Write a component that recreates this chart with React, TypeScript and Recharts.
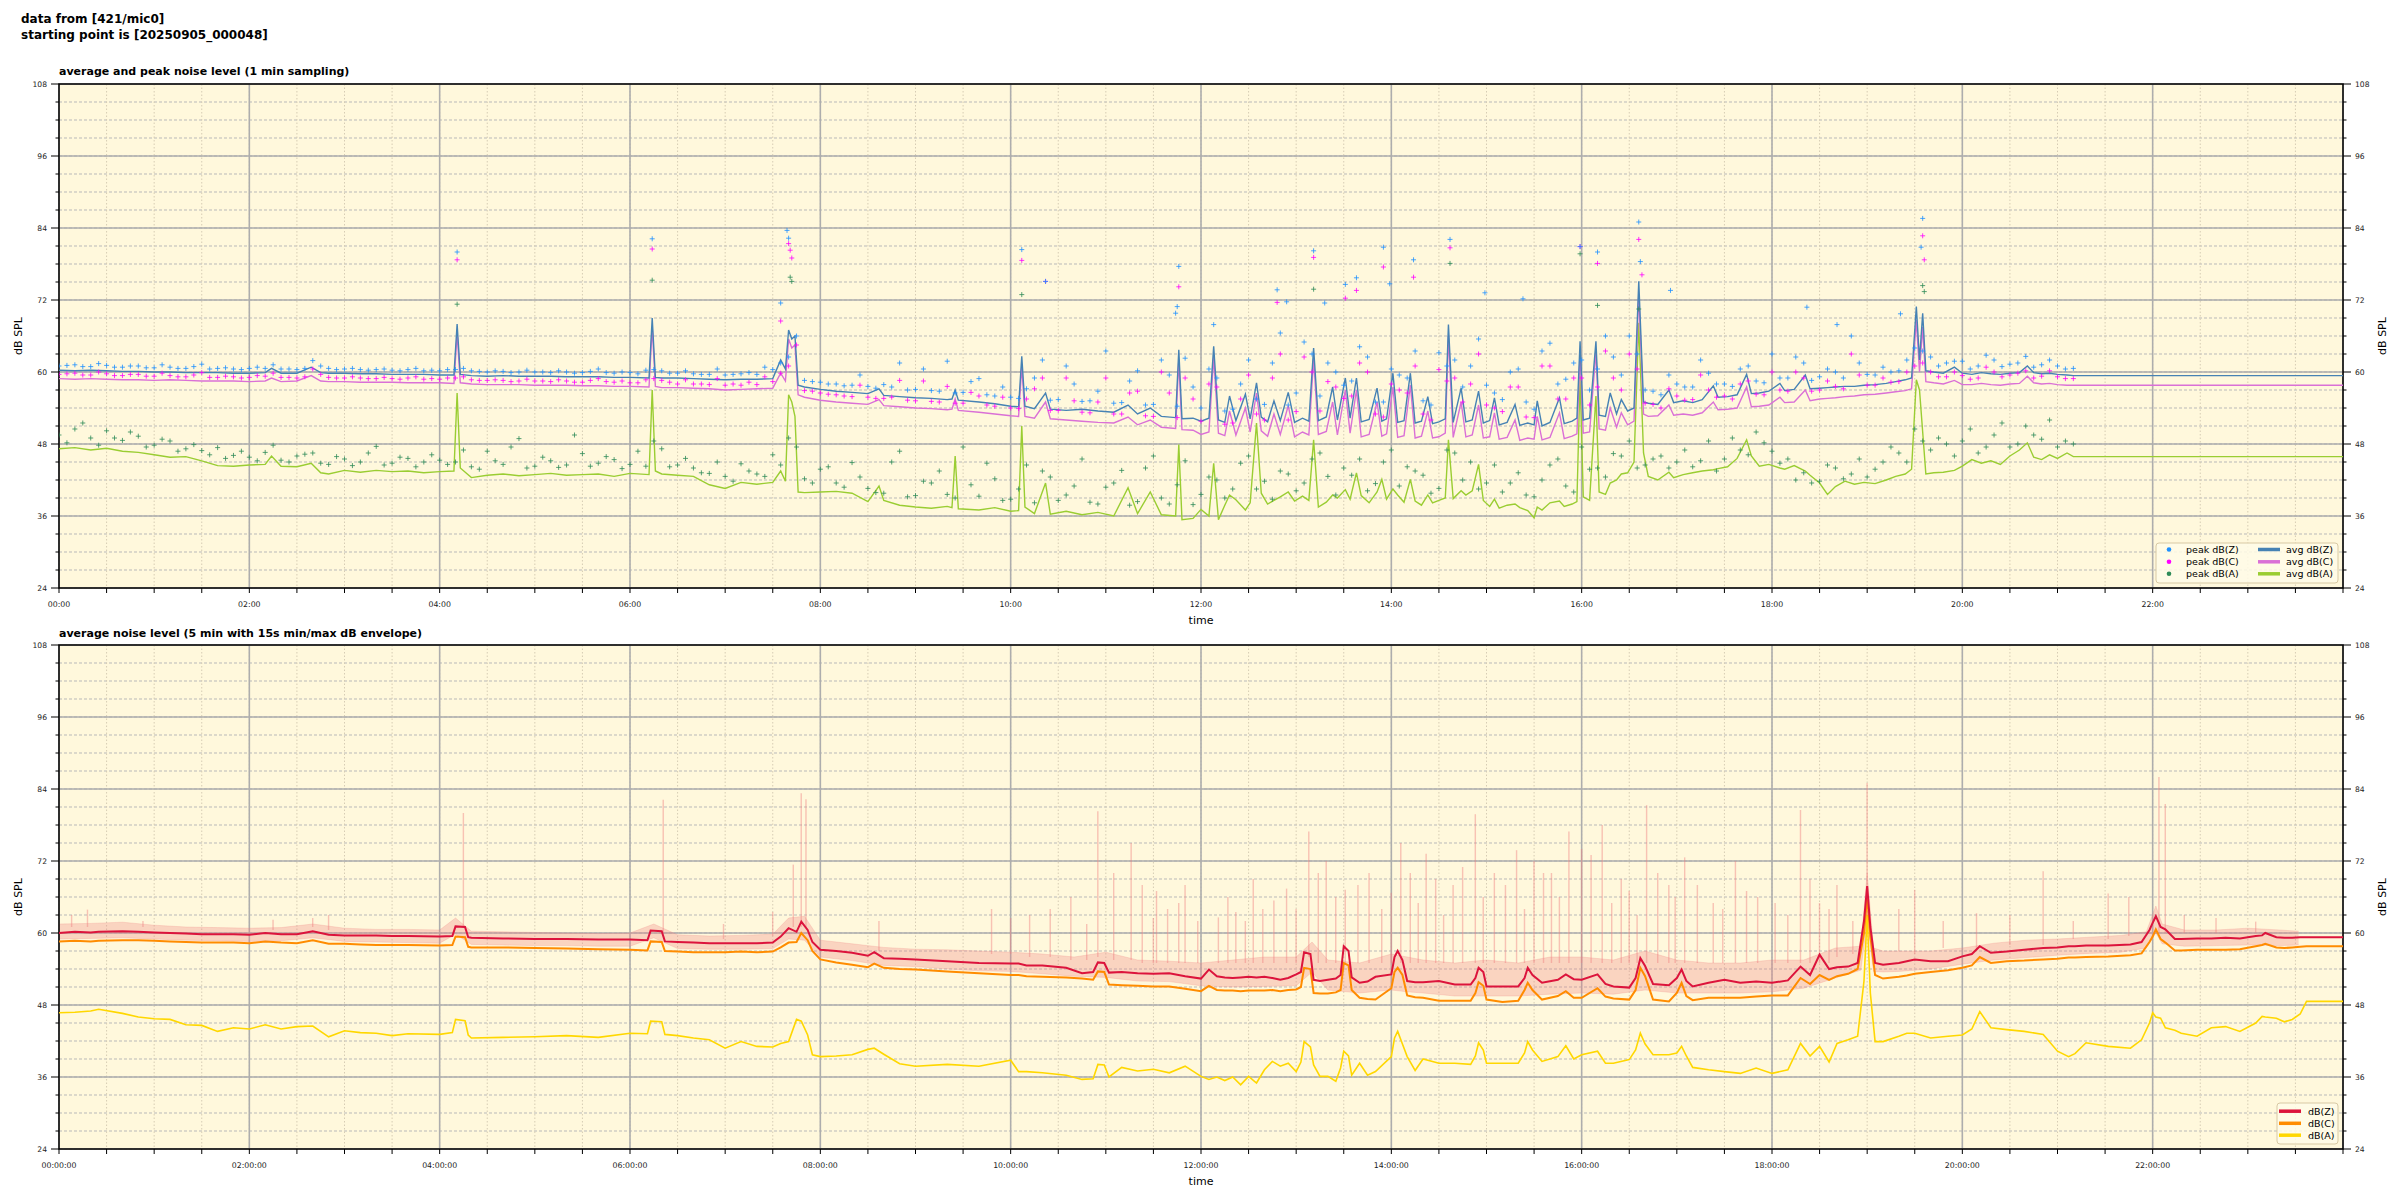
import { Area, Bar, CartesianGrid, ComposedChart, Line, ReferenceArea, Scatter, XAxis, YAxis } from "recharts";

const FONT = "'DejaVu Sans', sans-serif";
const PLOT_BG = "#fff8dc";

// ---- axes -------------------------------------------------------------
const dbTicks = [24, 27, 30, 33, 36, 39, 42, 45, 48, 51, 54, 57, 60, 63, 66, 69, 72, 75, 78, 81, 84, 87, 90, 93, 96, 99, 102, 105, 108];
const dbMajor = [24, 36, 48, 60, 72, 84, 96, 108];
const hourMajor = [0, 120, 240, 360, 480, 600, 720, 840, 960, 1080, 1200, 1320, 1440];
const halfHourTicks = Array.from({ length: 49 }, (_, i) => i * 30);
const topTimeLabels = ["00:00", "02:00", "04:00", "06:00", "08:00", "10:00", "12:00", "14:00", "16:00", "18:00", "20:00", "22:00"];
const bottomTimeLabels = ["00:00:00", "02:00:00", "04:00:00", "06:00:00", "08:00:00", "10:00:00", "12:00:00", "14:00:00", "16:00:00", "18:00:00", "20:00:00", "22:00:00"];

// ---- top chart: 1 min averages (minutes since 00:00) -----------------
const topT = [
  0, 10, 20, 30, 40, 50, 60, 70, 80, 90,
  100, 110, 120, 130, 134, 140, 150, 159, 165, 170,
  180, 190, 200, 210, 220, 230, 240, 249, 251, 253,
  260, 270, 280, 290, 300, 310, 320, 330, 340, 350,
  360, 372, 374, 376, 380, 390, 400, 410, 420, 430,
  440, 450, 455, 458, 460, 462, 464, 466, 470, 480,
  490, 500, 510, 517, 520, 530, 540, 550, 560, 563,
  565, 567, 580, 590, 600, 605, 607, 609, 615, 622,
  625, 635, 645, 655, 665, 674, 680, 688, 695, 704,
  706, 708, 715,
  720, 725, 728, 731, 735, 738, 742, 748, 751, 755,
  758, 762, 766, 770, 775, 779, 784, 788, 791, 794,
  799, 803, 806, 811, 814, 818, 821, 826, 831, 834,
  837, 841, 844, 848, 852, 855, 859, 863, 866, 870,
  874, 876, 879, 884, 887, 891, 895, 898, 902, 905,
  908, 913, 918, 921, 926, 930, 932, 935, 940, 946,
  949, 954, 957, 959, 961, 965, 969, 971, 975, 978,
  982, 985, 989, 993, 996, 999, 1002, 1008, 1015, 1018,
  1024, 1030, 1036, 1043, 1046, 1052, 1058, 1064, 1067, 1072,
  1078, 1085, 1088, 1094, 1101, 1104, 1110, 1115, 1120, 1126,
  1132, 1138, 1145, 1152, 1158, 1164, 1168, 1171, 1173, 1175,
  1177, 1182, 1188, 1195, 1200, 1206, 1212, 1218, 1224, 1230,
  1236, 1241, 1245, 1250, 1255, 1260, 1266, 1270, 1440,
];
const avgZ = [
  60.3, 60.2, 60.3, 60.2, 60.1, 60.1, 60.0, 60.0, 59.9, 59.9,
  59.9, 59.8, 59.8, 59.9, 60.6, 59.8, 59.8, 60.8, 59.9, 59.8,
  59.8, 59.7, 59.7, 59.6, 59.6, 59.6, 59.5, 59.5, 68.0, 59.6,
  59.4, 59.3, 59.4, 59.3, 59.3, 59.3, 59.2, 59.2, 59.2, 59.1,
  59.1, 59.0, 69.0, 59.1, 59.0, 59.0, 58.9, 58.8, 58.7, 58.8,
  58.8, 58.9, 62.0, 60.5, 67.0, 65.5, 66.0, 57.8, 57.5, 57.1,
  56.8, 56.6, 56.4, 57.2, 56.1, 55.9, 55.7, 55.6, 55.4, 55.5,
  57.0, 55.3, 55.0, 54.7, 54.3, 54.2, 62.6, 54.3, 53.9, 56.5,
  53.8, 53.6, 53.8, 53.5, 53.3, 54.5, 53.0, 54.0, 52.6, 52.4,
  63.7, 52.2, 52.3,
  51.8, 52.3, 64.3, 52.0, 51.6, 56.0, 51.9, 56.3, 52.2, 58.2,
  52.5, 51.7, 55.2, 51.9, 56.6, 51.6, 52.3, 51.8, 64.0, 51.9,
  52.5, 57.5, 52.0, 59.0, 52.3, 59.0, 51.7, 52.1, 57.3, 51.8,
  52.2, 59.8, 51.6, 51.9, 59.8, 51.5, 51.8, 55.9, 51.4, 51.7,
  52.2, 67.9, 51.6, 57.3, 51.7, 52.0, 56.8, 51.5, 51.9, 55.7,
  51.2, 51.6, 54.6, 51.1, 51.5, 51.2, 55.2, 51.0, 51.6, 55.7,
  51.4, 51.8, 52.3, 65.1, 52.0, 52.3, 65.1, 52.8, 52.6, 56.5,
  53.0, 55.4, 53.5, 54.0, 75.1, 55.0, 54.8, 54.6, 57.0, 54.9,
  55.2, 54.9, 55.4, 57.7, 55.8, 55.9, 56.2, 59.6, 56.4, 56.5,
  56.8, 58.1, 56.9, 57.1, 59.5, 57.2, 57.3, 57.4, 57.5, 57.6,
  57.6, 57.8, 57.9, 58.1, 58.4, 58.7, 59.0, 70.9, 62.0, 69.8,
  60.2, 60.0, 59.8, 60.8, 59.8, 59.6, 59.9, 59.7, 59.6, 59.8,
  59.9, 61.0, 59.9, 59.7, 59.8, 59.6, 59.5, 59.4, 59.4,
];
const avgC = [
  58.9, 58.8, 58.9, 58.8, 58.7, 58.7, 58.6, 58.7, 58.6, 58.5,
  58.5, 58.5, 58.4, 58.5, 59.0, 58.4, 58.5, 59.4, 58.5, 58.4,
  58.4, 58.3, 58.3, 58.3, 58.2, 58.2, 58.2, 58.1, 66.5, 58.2,
  58.0, 57.9, 57.9, 57.9, 57.8, 57.8, 57.8, 57.7, 57.7, 57.6,
  57.6, 57.5, 67.5, 57.6, 57.4, 57.4, 57.3, 57.2, 57.0, 57.1,
  57.2, 57.3, 59.8, 58.5, 65.5, 64.0, 64.5, 56.2, 55.8, 55.3,
  55.0, 54.8, 54.6, 55.4, 54.4, 54.2, 54.0, 53.9, 53.7, 53.8,
  55.5, 53.6, 53.3, 53.0, 52.7, 52.6, 61.0, 52.6, 52.3, 55.0,
  52.2, 52.0, 51.8, 51.6, 51.5, 52.5, 51.2, 52.0, 50.8, 50.6,
  62.0, 50.4, 50.3,
  49.6, 50.0, 62.5, 49.8, 49.4, 53.5, 49.5, 54.0, 50.0, 56.5,
  50.2, 49.3, 53.0, 49.6, 54.4, 49.2, 50.0, 49.5, 62.2, 49.6,
  50.1, 55.0, 49.5, 57.0, 49.8, 57.0, 49.2, 49.6, 55.0, 49.3,
  49.7, 57.5, 49.1, 49.4, 57.8, 49.0, 49.3, 53.5, 49.0, 49.2,
  49.8, 66.0, 49.1, 55.0, 49.2, 49.5, 54.5, 49.0, 49.2, 53.2,
  48.8, 49.1, 52.0, 48.6, 49.0, 48.8, 52.6, 48.7, 49.1, 53.2,
  48.9, 49.3, 49.7, 63.0, 49.8, 50.0, 63.5, 50.5, 50.3, 54.0,
  50.8, 53.2, 51.2, 51.8, 73.0, 53.0, 52.6, 52.7, 54.5, 52.8,
  53.0, 52.8, 53.2, 55.0, 53.7, 53.8, 54.0, 57.5, 54.2, 54.3,
  54.5, 55.8, 54.9, 55.0, 57.0, 55.2, 55.5, 55.6, 55.7, 55.9,
  56.0, 56.2, 56.3, 56.5, 56.7, 56.9, 57.2, 68.7, 60.0, 67.5,
  58.4, 58.2, 58.0, 58.6, 57.9, 57.9, 58.1, 57.9, 57.8, 58.0,
  58.1, 59.3, 58.2, 58.0, 58.1, 57.9, 57.8, 57.8, 57.8,
];
const avgA = [
  47.2, 47.4, 47.0, 47.3, 46.8, 46.6, 46.2, 45.8, 45.9, 45.2,
  44.4, 44.3, 44.5, 44.6, 46.0, 44.3, 44.2, 44.8, 43.2, 43.0,
  43.6, 43.3, 43.6, 43.4, 43.5, 43.2, 43.4, 43.5, 56.5, 44.0,
  42.4, 42.8, 43.0, 42.7, 42.9, 43.1, 42.8, 42.9, 43.0, 42.6,
  43.1, 42.9, 57.0, 43.5, 43.0, 42.8, 42.6, 41.2, 40.6, 41.6,
  41.3, 41.6, 43.5, 41.8, 56.2, 55.0, 52.6, 40.0, 39.9, 40.0,
  40.1, 39.8, 38.4, 41.0, 38.6, 37.8, 37.5, 37.3, 37.6, 37.4,
  46.0, 37.2, 37.0, 37.4, 36.8, 36.9, 51.0, 37.5, 36.4, 41.5,
  36.3, 36.8, 36.2, 36.6, 36.0, 40.7, 36.4, 40.0, 36.2, 36.0,
  47.9, 35.4, 35.6,
  37.1, 36.0, 44.8, 35.4, 37.8, 39.5, 38.7, 37.0, 38.2, 51.5,
  39.8, 38.0, 38.6, 39.2, 40.0, 38.5, 39.3, 38.6, 48.7, 37.5,
  38.3, 39.5, 39.0, 40.4, 38.8, 43.2, 39.4, 38.2, 40.0, 42.1,
  38.8, 40.5, 39.5, 38.3, 42.1, 38.5, 37.8, 39.5, 38.2, 38.6,
  39.0, 48.7, 38.9, 40.2, 39.5, 40.2, 44.6, 38.6, 37.6, 38.8,
  37.3, 37.8, 38.0, 37.4, 36.9, 35.7, 37.5, 37.0, 38.2, 38.5,
  37.6, 38.0, 38.4, 59.3, 39.2, 38.6, 56.0, 40.0, 39.6, 41.5,
  42.0, 43.0, 43.2, 45.0, 68.2, 46.5, 42.6, 42.0, 43.3, 42.4,
  42.9, 43.2, 43.5, 43.7, 43.9, 44.2, 45.6, 48.7, 46.0, 44.3,
  44.6, 44.0, 43.8, 44.4, 43.5, 42.8, 41.5, 39.6, 40.9, 41.8,
  41.3, 41.6, 41.4, 42.0, 42.6, 43.0, 43.8, 58.7, 57.0, 50.0,
  43.0, 43.2, 43.3, 43.6, 44.3, 45.4, 44.8, 45.2, 44.6, 46.0,
  47.0, 48.2, 45.8, 45.4, 46.2, 45.6, 46.5, 45.9, 45.9,
];

// ---- top chart: 1 min peaks, every 5 minutes 00:00 .. 21:10 ----------
const peakT = Array.from({ length: 128 }, (_, i) => i * 10);
const peakT2 = Array.from({ length: 127 }, (_, i) => i * 10 + 5);
const peakZ = [
  61.0, 61.2, 60.9, 61.1, 60.8, 61.0, 60.7, 60.8, 60.6, 61.3,
  60.6, 60.5, 60.6, 60.6, 60.5, 60.4, 61.9, 60.6, 60.5, 60.4,
  60.4, 60.3, 60.4, 60.2, 60.2, 60.4, 60.2, 60.0, 60.1, 60.0,
  60.0, 59.9, 60.0, 59.9, 60.5, 59.8, 59.9, 60.3, 60.2, 59.8,
  59.7, 59.6, 59.5, 59.7, 59.6, 60.4, 62.5, 58.6, 58.3, 58.0,
  57.8, 57.6, 57.9, 61.5, 57.1, 56.9, 61.8, 56.6, 58.9, 56.0,
  55.8, 57.2, 62.0, 55.4, 58.0, 55.2, 63.5, 54.9, 60.2, 54.6,
  59.5, 62.3, 54.0, 59.0, 53.8, 62.0, 54.6, 66.5, 56.5, 63.0,
  61.5, 57.8, 64.2, 55.0, 60.5, 59.0, 55.2, 63.2, 62.0, 61.0,
  57.8, 55.4, 60.5, 53.8, 64.8, 58.8, 62.0, 60.5, 62.5, 66.0,
  57.0, 56.2, 58.0, 57.5, 59.8, 58.0, 60.5, 58.5, 63.0, 59.0,
  61.5, 59.2, 60.0, 66.0, 59.6, 60.8, 60.2, 64.0, 62.5, 61.5,
  61.8, 61.0, 62.0, 61.3, 62.6, 61.2, 61.0, 60.6,
];
const peakZ2 = [
  61.1, 60.9, 61.4, 60.8, 61.0, 60.7, 61.2, 60.6, 60.9, 60.5,
  60.7, 60.4, 60.8, 61.2, 60.5, 60.6, 61.0, 60.4, 60.6, 60.3,
  60.5, 60.2, 60.6, 60.3, 60.4, 60.6, 60.1, 60.2, 59.9, 60.3,
  60.0, 60.2, 59.8, 60.1, 59.9, 60.0, 59.7, 60.4, 59.8, 60.2,
  59.6, 60.5, 59.6, 59.9, 60.8, 61.5, 66.0,
  58.4, 58.0, 57.7, 59.5, 57.3, 57.5, 57.0, 60.5, 56.8, 56.5, 58.4, 56.2, 57.5,
  55.6, 59.0, 55.3, 61.0, 55.1, 56.8, 54.8, 58.5, 54.5, 62.0, 54.3, 57.5,
  60.5, 53.5, 58.0, 55.5, 61.5, 54.5, 65.0, 56.0, 60.0, 58.5,
  62.5, 55.0, 59.5, 63.5, 54.5, 61.0, 57.5, 65.5, 56.5, 60.0,
  55.0, 63.5, 58.0, 61.5, 57.0, 66.0, 59.5, 63.0,
  56.8, 59.5, 57.5, 62.0, 58.0, 57.6, 61.0, 58.2, 59.0, 62.5,
  58.6, 60.5, 59.0, 61.5, 59.5, 60.0, 62.0, 63.5, 61.0, 61.8,
  60.5, 62.8, 60.9, 61.5, 60.8, 62.0, 60.5,
];
const peakC = [
  59.6, 59.8, 59.5, 59.7, 59.4, 59.6, 59.3, 59.4, 59.2, 59.9,
  59.1, 59.2, 59.1, 59.3, 59.1, 59.0, 60.5, 59.1, 59.0, 59.0,
  58.9, 58.9, 59.0, 58.8, 58.8, 59.0, 58.7, 58.6, 58.6, 58.5,
  58.5, 58.4, 58.5, 58.3, 58.9, 58.3, 58.2, 58.7, 58.6, 58.0,
  58.0, 57.9, 57.8, 57.8, 57.9, 58.4, 61.0, 56.9, 56.5, 56.2,
  55.9, 55.8, 55.6, 58.6, 55.2, 55.1, 57.6, 54.8, 56.0, 54.3,
  54.0, 55.5, 59.0, 53.6, 55.2, 53.2, 59.0, 53.0, 56.8, 52.6,
  56.5, 59.0, 51.8, 57.5, 51.5, 59.5, 52.0, 63.0, 53.4, 60.0,
  58.4, 55.6, 61.5, 53.0, 58.0, 56.5, 53.0, 60.4, 59.0, 58.0,
  54.5, 53.4, 57.5, 52.4, 61.0, 55.5, 59.0, 57.5, 59.0, 63.0,
  54.8, 54.0, 56.0, 55.4, 57.0, 56.0, 58.0, 56.3, 60.0, 56.8,
  59.0, 57.0, 57.6, 63.0, 57.8, 59.0, 58.4, 61.0, 60.0, 59.2,
  59.4, 59.0, 60.0, 59.5, 60.2, 59.3, 59.2, 58.9,
];
const peakC2 = [
  59.7, 59.5, 60.0, 59.4, 59.6, 59.3, 59.8, 59.2, 59.5, 59.1,
  59.3, 59.0, 59.4, 59.8, 59.1, 59.2, 59.6, 59.0, 59.2, 58.9,
  59.1, 58.8, 59.2, 58.9, 59.0, 59.2, 58.6, 58.7, 58.4, 58.8,
  58.5, 58.7, 58.3, 58.6, 58.4, 58.5, 58.2, 58.9, 58.3, 58.7,
  58.0, 58.9, 58.0, 58.3, 59.2, 59.8, 64.5,
  56.8, 56.3, 56.0, 57.8, 55.6, 55.8, 55.3, 58.5, 55.0, 54.8, 56.6, 54.5, 55.8,
  53.9, 57.2, 53.6, 59.0, 53.3, 55.0, 53.0, 56.5, 52.7, 60.0, 52.4, 55.5,
  58.0, 51.3, 55.5, 53.0, 59.0, 52.0, 62.5, 53.5, 57.5, 56.0,
  60.0, 52.5, 57.0, 61.0, 52.0, 58.5, 55.0, 63.0, 54.0, 57.5,
  52.5, 61.0, 55.5, 59.0, 54.5, 63.5, 57.0, 60.5,
  54.6, 57.2, 55.3, 59.5, 55.8, 55.5, 58.5, 56.2, 57.0, 60.0,
  56.8, 58.5, 57.2, 59.5, 57.8, 58.3, 60.0, 61.5, 59.2, 60.0,
  58.8, 60.8, 59.2, 59.8, 59.0, 60.2, 58.9,
];
const peakA = [
  49.5, 50.5, 49.0, 50.2, 48.6, 49.3, 47.8, 48.5, 47.2, 46.9,
  47.4, 46.1, 45.8, 46.6, 45.3, 46.0, 46.5, 44.6, 45.5, 45.0,
  47.6, 44.8, 45.6, 45.0, 45.3, 45.0, 44.2, 46.8, 44.6, 48.9,
  44.3, 45.2, 44.5, 46.4, 44.8, 45.4, 44.6, 44.3, 47.2, 44.5,
  44.0, 43.1, 42.6, 44.7, 43.0, 46.2, 49.0, 42.2, 43.8, 41.5,
  44.9, 40.6, 39.8, 46.8, 39.4, 41.5, 39.6, 47.5, 39.3, 42.2,
  38.8, 44.5, 43.5, 38.6, 41.0, 38.3, 40.8, 43.6, 38.4, 46.0,
  38.0, 45.2, 39.6, 42.0, 40.5, 46.0, 41.8, 43.5, 40.2, 45.5,
  42.6, 44.0, 45.5, 41.4, 47.0, 44.2, 42.8, 40.6, 46.5, 45.0,
  41.5, 40.0, 43.2, 39.2, 44.5, 41.0, 47.5, 44.0, 46.4, 48.5,
  44.5, 46.0, 45.0, 44.2, 48.5, 45.5, 47.0, 50.0, 46.8, 45.5,
  43.2, 41.8, 44.0, 43.0, 42.5, 45.0, 46.5, 50.5, 47.0, 48.0,
  48.5, 46.5, 49.5, 47.5, 51.0, 48.8, 47.5, 48.0,
];
const peakA2 = [
  48.2, 51.5, 47.8, 49.0, 50.0, 47.5, 48.8, 46.8, 47.9, 46.2,
  45.6, 46.8, 45.2, 47.8, 45.0, 46.3, 44.8, 45.9, 44.4, 46.5,
  44.5, 45.8, 44.2, 46.2, 44.6, 47.0, 43.8, 45.2, 47.5, 44.0,
  45.8, 44.1, 49.5, 44.3, 45.9, 43.9, 46.8, 48.5, 44.2, 45.6,
  43.2, 45.0, 41.8, 43.5, 42.6, 44.5, 47.5,
  41.5, 44.2, 40.8, 42.5, 39.9, 45.0, 39.2, 41.8, 43.5, 39.0, 41.2, 44.8, 38.6,
  40.5, 38.2, 42.5, 39.5, 45.5, 38.0, 41.5, 37.8, 44.0, 39.0, 41.2, 37.9,
  42.5, 39.0, 44.8, 40.5, 38.8, 43.0, 41.5, 46.5, 39.5, 42.8,
  40.2, 45.0, 41.0, 43.5, 39.8, 47.0, 42.0, 40.5, 44.5, 41.5,
  39.5, 42.0, 45.5, 40.0, 43.8, 42.5, 46.0, 44.0,
  45.5, 44.0, 47.0, 45.2, 43.5, 49.0, 46.2, 48.2, 44.8, 42.0,
  41.5, 44.5, 42.2, 45.5, 43.8, 47.5, 45.0, 48.5, 49.0, 46.0,
  50.5, 47.5, 51.5, 48.0, 49.5, 52.0, 48.5,
];
// loud single-minute peaks
const peakZxT = [251, 374, 455, 459, 460, 607, 622, 704, 705, 706, 728, 768, 774, 791, 798, 811, 818, 835, 839, 854, 877, 899, 923, 959, 970, 996, 997, 1016, 1102, 1121, 1161, 1174, 1175];
const peakZxV = [80.0, 82.2, 71.5, 83.6, 82.3, 80.4, 75.1, 69.8, 70.9, 77.6, 67.9, 73.7, 71.7, 80.2, 71.5, 74.6, 75.7, 80.8, 74.7, 78.7, 82.1, 73.2, 72.2, 80.9, 80.0, 85.0, 78.4, 73.6, 70.8, 67.9, 69.7, 80.8, 85.6];
const peakCxT = [251, 374, 455, 460, 461, 462, 607, 622, 706, 768, 791, 811, 818, 835, 854, 877, 959, 970, 996, 998, 1175, 1176];
const peakCxV = [78.7, 80.5, 68.5, 81.4, 80.3, 79.0, 78.6, 75.1, 74.2, 71.6, 79.1, 72.3, 73.6, 77.5, 75.8, 80.7, 80.9, 78.1, 82.1, 76.2, 82.7, 78.7];
const peakAxT = [251, 374, 461, 462, 607, 791, 877, 959, 970, 996, 1175, 1176];
const peakAxV = [71.3, 75.3, 75.8, 75.1, 72.9, 73.8, 78.1, 79.7, 71.1, 70.5, 74.4, 73.4];

// ---- bottom chart: 5 min averages ------------------------------------
const btmT = [
  0, 10, 20, 25, 40, 50, 60, 70, 80, 90,
  100, 110, 120, 130, 140, 150, 160, 170, 180, 190,
  200, 210, 220, 240, 248, 250, 256, 258, 260, 280,
  300, 320, 340, 360, 371, 373, 380, 382, 390, 400,
  410, 420, 430, 440, 450, 455, 460, 465, 468, 472,
  475, 480, 490, 500, 510, 514, 520, 530, 540, 560,
  580, 600, 605, 610, 620, 635, 645, 652, 655, 659,
  662, 670, 680, 690, 700, 710, 720, 725, 730, 735,
  740, 745, 750, 755, 760, 765, 770, 775, 780, 783,
  785, 789, 791, 795, 800, 805, 808, 810, 813, 815,
  820, 825, 830, 840, 842, 844, 847, 850, 855, 860,
  870, 880, 890, 893, 895, 898, 900, 910, 920, 924,
  926, 929, 935, 945, 950, 955, 960, 970, 975, 980,
  990, 994, 997, 1000, 1005, 1015, 1020, 1023, 1026, 1030,
  1040, 1050, 1060, 1070, 1080, 1090, 1098, 1104, 1110, 1116,
  1121, 1128, 1134, 1138, 1140, 1142, 1145, 1150, 1160, 1165,
  1170, 1180, 1191, 1200, 1206, 1211, 1218, 1228, 1239, 1251,
  1260, 1267, 1271, 1278, 1292, 1306, 1313, 1318, 1320, 1322,
  1325, 1328, 1334, 1338, 1348, 1357, 1366, 1375, 1385, 1389,
  1391, 1398, 1403, 1408, 1413, 1417, 1440,
];
const lineZ = [
  60.0, 60.2, 60.1, 60.2, 60.3, 60.2, 60.1, 60.0, 59.9, 59.8,
  59.8, 59.8, 59.7, 60.0, 59.8, 59.8, 60.3, 59.7, 59.6, 59.6,
  59.6, 59.5, 59.5, 59.4, 59.5, 61.1, 61.0, 59.3, 59.2, 59.1,
  59.0, 59.0, 58.9, 58.9, 58.8, 60.4, 60.3, 58.6, 58.5, 58.4,
  58.3, 58.3, 58.3, 58.3, 58.4, 59.4, 60.8, 60.2, 61.9, 60.5,
  58.5, 57.2, 57.0, 56.7, 56.2, 56.8, 55.8, 55.7, 55.6, 55.3,
  55.0, 54.9, 54.9, 54.6, 54.6, 54.2, 53.3, 53.5, 55.1, 55.0,
  53.4, 53.5, 53.3, 53.2, 53.3, 52.8, 52.4, 53.9, 52.8, 52.6,
  52.5, 52.6, 52.7, 52.6, 52.7, 52.5, 52.2, 52.5, 53.1, 53.5,
  56.8, 56.5, 52.2, 52.0, 52.2, 52.4, 53.0, 57.8, 57.0, 52.6,
  51.7, 51.9, 52.7, 53.1, 56.0, 57.0, 55.5, 52.0, 51.8, 51.8,
  52.0, 51.4, 51.4, 52.5, 54.2, 53.5, 51.1, 51.1, 51.1, 52.5,
  54.2, 53.0, 51.7, 52.2, 53.1, 52.3, 52.2, 53.1, 51.5, 51.1,
  50.9, 52.5, 55.8, 54.5, 51.5, 51.3, 52.5, 53.9, 52.0, 51.1,
  51.7, 52.2, 51.7, 51.9, 51.7, 52.1, 54.4, 53.0, 56.4, 54.0,
  54.3, 54.4, 55.0, 62.0, 67.8, 61.0, 55.0, 54.7, 55.0, 55.3,
  55.6, 55.3, 55.3, 56.1, 56.5, 57.8, 56.7, 56.9, 57.2, 57.5,
  57.6, 57.8, 57.8, 57.9, 57.9, 58.1, 58.5, 60.5, 61.7, 62.8,
  61.0, 60.6, 59.0, 59.0, 59.1, 59.1, 59.2, 59.1, 59.5, 59.6,
  60.0, 59.3, 59.2, 59.2, 59.3, 59.3, 59.3,
];
const lineC = [
  58.6, 58.7, 58.6, 58.7, 58.8, 58.8, 58.7, 58.6, 58.5, 58.4,
  58.4, 58.4, 58.3, 58.6, 58.4, 58.3, 58.8, 58.2, 58.2, 58.1,
  58.0, 58.0, 58.0, 57.9, 58.0, 59.4, 59.3, 57.7, 57.6, 57.6,
  57.5, 57.4, 57.3, 57.2, 57.1, 58.6, 58.5, 57.0, 56.9, 56.8,
  56.8, 56.8, 56.9, 56.8, 56.9, 57.6, 58.4, 58.5, 60.0, 58.8,
  57.0, 55.6, 55.1, 54.7, 54.3, 54.9, 54.2, 54.0, 53.9, 53.6,
  53.3, 53.0, 53.0, 52.8, 52.7, 52.6, 52.4, 52.2, 53.6, 53.5,
  51.4, 51.3, 51.2, 51.1, 51.1, 50.7, 50.3, 51.2, 50.5, 50.4,
  50.4, 50.3, 50.4, 50.4, 50.4, 50.5, 50.3, 50.5, 50.6, 51.0,
  54.2, 54.0, 50.0, 49.9, 49.9, 50.1, 50.5, 55.0, 54.6, 50.5,
  49.2, 49.0, 48.9, 50.8, 53.5, 54.2, 53.0, 49.6, 49.3, 49.2,
  48.7, 48.7, 48.7, 50.0, 51.8, 51.2, 48.9, 48.5, 48.7, 50.5,
  51.7, 50.5, 48.9, 49.5, 50.3, 49.2, 49.2, 50.8, 49.4, 49.1,
  48.9, 50.5, 54.2, 52.8, 48.9, 48.6, 50.0, 51.7, 49.5, 48.8,
  49.2, 49.2, 49.2, 49.4, 49.6, 49.6, 52.5, 51.5, 53.0, 52.2,
  52.8, 53.2, 54.0, 60.0, 66.2, 59.5, 53.0, 52.4, 52.7, 52.9,
  53.2, 53.5, 53.8, 54.2, 54.6, 56.0, 55.0, 55.3, 55.4, 55.6,
  55.7, 55.9, 55.9, 56.0, 56.1, 56.3, 56.6, 58.5, 59.4, 60.6,
  59.0, 58.4, 57.1, 57.1, 57.2, 57.2, 57.2, 57.3, 57.8, 58.0,
  58.2, 57.6, 57.5, 57.6, 57.7, 57.8, 57.8,
];
const lineA = [
  46.7, 46.8, 47.0, 47.3, 46.6, 46.0, 45.7, 45.6, 44.7, 44.6,
  43.6, 44.2, 44.0, 44.7, 44.0, 44.4, 44.5, 42.7, 43.7, 43.4,
  43.3, 42.9, 43.2, 43.1, 43.4, 45.6, 45.4, 43.0, 42.5, 42.6,
  42.7, 42.9, 42.6, 43.3, 43.2, 45.3, 45.2, 43.1, 42.9, 42.5,
  42.2, 40.8, 41.9, 41.1, 41.0, 41.6, 41.9, 45.6, 45.3, 43.0,
  39.7, 39.4, 39.5, 39.7, 40.6, 40.8, 39.8, 38.2, 37.8, 38.1,
  37.8, 38.8, 36.9, 36.9, 36.7, 36.3, 35.6, 35.7, 38.1, 38.0,
  36.0, 37.6, 37.0, 37.3, 36.7, 37.8, 36.1, 35.6, 36.0, 35.4,
  36.0, 34.7, 36.1, 35.0, 37.2, 38.6, 37.8, 38.3, 36.9, 38.5,
  41.9, 41.0, 38.0, 36.1, 36.1, 35.3, 37.5, 40.3, 39.5, 36.3,
  38.3, 36.3, 36.9, 39.4, 42.5, 43.6, 41.5, 39.4, 37.1, 39.0,
  38.3, 38.3, 38.1, 39.5, 41.7, 40.5, 38.3, 38.3, 38.3, 40.0,
  41.9, 40.5, 38.6, 39.4, 41.2, 39.0, 39.7, 40.3, 38.3, 38.3,
  38.9, 40.5, 43.3, 41.5, 39.7, 39.7, 40.0, 41.1, 39.5, 37.6,
  37.2, 36.9, 36.6, 37.5, 36.6, 37.2, 41.6, 39.5, 41.1, 38.5,
  41.6, 42.2, 42.8, 52.0, 63.0, 50.0, 41.9, 41.9, 42.8, 43.3,
  43.3, 42.5, 42.8, 43.0, 44.0, 46.9, 44.2, 43.9, 43.6, 43.1,
  40.3, 39.4, 39.9, 41.7, 41.1, 40.8, 42.2, 45.0, 46.7, 46.0,
  45.8, 44.2, 43.8, 43.3, 42.8, 44.2, 44.4, 43.6, 45.0, 46.1,
  46.0, 45.8, 45.2, 45.6, 46.5, 48.6, 48.6,
];

// 15 s min/max envelope
const envT = [
  0, 20, 40, 60, 80, 100, 120, 140, 160, 180,
  200, 220, 240, 250, 260, 280, 300, 320, 340, 360,
  375, 390, 410, 430, 450, 460, 470, 480, 500, 520,
  540, 560, 580, 600, 620, 640, 660, 680, 700, 720,
  740, 760, 780, 790, 800, 820, 840, 850, 860, 880,
  900, 920, 940, 960, 980, 1000, 1020, 1040, 1060, 1080,
  1100, 1120, 1136, 1140, 1144, 1150, 1160, 1180, 1200, 1220,
  1240, 1260, 1280, 1300, 1316, 1322, 1326, 1340, 1360, 1380,
  1400, 1412,
];
const envLo = [
  59.0, 59.1, 59.2, 59.0, 58.8, 58.7, 58.6, 58.7, 59.2, 58.6,
  58.5, 58.4, 58.3, 59.8, 58.1, 58.0, 57.9, 57.9, 57.8, 57.8,
  59.2, 57.4, 57.3, 57.3, 57.4, 59.0, 58.8, 56.0, 55.4, 54.6,
  54.4, 54.0, 53.7, 53.6, 53.2, 52.8, 52.6, 52.0, 51.9, 51.2,
  51.0, 51.1, 51.2, 53.5, 50.5, 50.0, 50.5, 50.2, 50.0, 49.5,
  49.5, 49.5, 49.8, 50.0, 49.8, 50.5, 50.0, 50.0, 50.0, 50.2,
  50.8, 52.5, 53.8, 62.0, 53.6, 53.5, 53.6, 54.0, 54.8, 55.5,
  55.9, 56.3, 56.6, 56.8, 57.5, 60.0, 58.2, 57.8, 57.9, 58.0,
  57.9, 58.0,
];
const envHi = [
  61.5, 61.6, 61.8, 61.3, 61.0, 60.9, 60.8, 60.9, 61.5, 60.8,
  60.6, 60.6, 60.5, 62.5, 60.3, 60.2, 60.1, 60.0, 59.9, 60.0,
  61.5, 59.7, 59.5, 59.6, 59.8, 62.5, 62.8, 58.8, 58.2, 57.6,
  57.3, 57.2, 57.0, 56.8, 56.5, 56.0, 56.8, 55.5, 55.3, 55.0,
  55.5, 56.0, 56.0, 58.5, 55.5, 55.0, 56.5, 56.0, 55.5, 55.0,
  55.5, 55.0, 56.0, 56.0, 55.5, 57.0, 55.5, 55.0, 55.0, 55.5,
  55.5, 57.5, 57.8, 70.0, 57.5, 57.0, 57.0, 57.0, 57.5, 58.3,
  58.8, 59.0, 59.3, 59.6, 60.2, 64.5, 61.5, 60.5, 60.5, 60.8,
  60.5, 60.3,
];
// short 15 s maxima sticking out of the envelope
const spikeT = [
  8, 18, 53, 135, 160, 170, 255, 381, 419, 450,
  463, 468, 471, 517, 588, 600, 625, 655, 665, 676,
  690, 692, 706, 710, 731, 748, 759, 766, 774, 788,
  794, 811, 819, 840, 852, 862, 879, 893, 905, 919,
  930, 941, 952, 960, 973, 990, 1001, 1015, 1025, 1043,
  1057, 1071, 1082, 1098, 1110, 1121, 1140, 1170, 1209, 1251,
  1292, 1324, 1328, 1385,
  612, 638, 648, 683, 699, 718, 737, 742, 753, 780,
  799, 805, 826, 834, 846, 857, 868, 873, 885, 898,
  912, 924, 936, 946, 966, 979, 985, 995, 1008, 1019,
  1033, 1049, 1064, 1090, 1104, 1116, 1131, 1160, 1188, 1230,
  1270, 1305, 1340, 1360,
];
const spikeLo = [
  61.0, 61.0, 61.0, 60.5, 61.0, 60.5, 61.0, 60.0, 59.0, 59.5,
  61.0, 61.0, 61.0, 57.0, 56.5, 56.5, 56.0, 56.0, 55.5, 55.5,
  55.0, 55.0, 55.0, 55.0, 55.0, 55.0, 55.0, 55.0, 55.0, 56.0,
  55.0, 55.0, 55.0, 55.0, 55.0, 55.0, 55.0, 55.0, 55.0, 55.0,
  55.0, 55.0, 55.0, 55.0, 55.0, 55.0, 55.0, 55.0, 55.0, 55.0,
  55.0, 55.0, 55.0, 55.0, 55.0, 56.0, 60.0, 56.5, 57.0, 58.0,
  59.0, 60.0, 60.0, 60.0,
  56.0, 55.5, 55.5, 55.0, 55.0, 55.0, 55.0, 55.0, 55.0, 55.0,
  55.0, 55.0, 55.0, 55.0, 55.0, 55.0, 55.0, 55.0, 55.0, 55.0,
  55.0, 55.0, 55.0, 55.0, 55.0, 55.0, 55.0, 55.0, 55.0, 55.0,
  55.0, 55.0, 55.0, 55.0, 55.0, 55.0, 56.5, 57.0, 57.5, 58.0,
  59.0, 59.5, 60.0, 60.0,
];
const spikeHi = [
  63.0, 63.9, 62.0, 62.2, 62.5, 63.0, 80.0, 82.2, 61.5, 63.5,
  71.4, 83.3, 82.3, 62.0, 64.0, 62.5, 64.0, 80.3, 70.0, 75.0,
  62.5, 67.0, 65.0, 68.0, 62.6, 62.0, 64.0, 65.4, 67.4, 76.9,
  70.0, 67.2, 68.0, 66.7, 70.0, 73.2, 68.0, 79.8, 70.0, 73.8,
  72.0, 70.0, 76.9, 74.0, 78.0, 67.0, 81.3, 68.0, 72.6, 65.0,
  72.0, 66.0, 65.0, 80.5, 65.0, 68.0, 85.0, 67.2, 63.3, 70.3,
  66.6, 86.0, 81.5, 61.9,
  63.0, 66.0, 61.5, 68.0, 64.0, 62.0, 66.0, 63.5, 69.0, 64.0,
  72.0, 66.0, 70.0, 64.0, 75.0, 65.0, 69.0, 63.0, 71.0, 66.0,
  68.0, 64.0, 70.0, 66.0, 73.0, 65.0, 69.0, 63.0, 70.0, 66.0,
  68.0, 64.0, 67.0, 63.0, 69.0, 64.0, 62.0, 64.0, 62.0, 63.0,
  62.0, 66.0, 63.0, 62.5,
];

// ---- tables for the library ------------------------------------------
const rowsOf = (ts: number[], vs: number[]) => ts.map((t, i) => ({ t, v: vs[i] }));
const topZ = rowsOf(topT, avgZ);
const topC = rowsOf(topT, avgC);
const topA = rowsOf(topT, avgA);
const pkZ = [...rowsOf(peakT, peakZ), ...rowsOf(peakT2, peakZ2), ...rowsOf(peakZxT, peakZxV)];
const pkC = [...rowsOf(peakT, peakC), ...rowsOf(peakT2, peakC2), ...rowsOf(peakCxT, peakCxV)];
const pkA = [...rowsOf(peakT, peakA), ...rowsOf(peakT2, peakA2), ...rowsOf(peakAxT, peakAxV)];
const btmZ = rowsOf(btmT, lineZ);
const btmC = rowsOf(btmT, lineC);
const btmA = rowsOf(btmT, lineA);
const envRows = envT.map((t, i) => ({ t, band: [envLo[i], envHi[i]] }));
const spikeRows = spikeT.map((t, i) => ({ t, band: [spikeLo[i], spikeHi[i]] }));

// ---- tick renderers ----------------------------------------------------
function makeXTick(labels: string[]) {
  return (p: any) => {
    const { x, y, payload } = p;
    const v = payload.value as number;
    const label = v % 120 === 0 ? labels[v / 120] : undefined;
    return (
      <g>
        <line x1={x} x2={x} y1={y} y2={y + 5} stroke="#000" strokeWidth={1} />
        {label && (
          <text x={x} y={y + 18.5} textAnchor="middle" fontSize={7.8} fill="#222" fontFamily={FONT}>
            {label}
          </text>
        )}
      </g>
    );
  };
}

function YTickLeft(p: any) {
  const { x, y, payload } = p;
  const v = payload.value as number;
  const major = v % 12 === 0;
  return (
    <g>
      <line x1={x - (major ? 8 : 3.5)} x2={x} y1={y} y2={y} stroke="#000" strokeWidth={1} />
      {major && (
        <text x={x - 12} y={y} dy="0.35em" textAnchor="end" fontSize={7.6} fill="#222" fontFamily={FONT}>
          {v}
        </text>
      )}
    </g>
  );
}

function YTickRight(p: any) {
  const { x, y, payload } = p;
  const v = payload.value as number;
  const major = v % 12 === 0;
  return (
    <g>
      <line x1={x} x2={x + (major ? 8 : 3.5)} y1={y} y2={y} stroke="#000" strokeWidth={1} />
      {major && (
        <text x={x + 12} y={y} dy="0.35em" textAnchor="start" fontSize={7.6} fill="#222" fontFamily={FONT}>
          {v}
        </text>
      )}
    </g>
  );
}

function plusShape(color: string) {
  return (p: any) => {
    const { cx, cy } = p;
    if (cx == null || cy == null) return <g />;
    return <path d={`M${cx - 2.5},${cy}h5M${cx},${cy - 2.5}v5`} stroke={color} strokeWidth={1} strokeOpacity={0.8} />;
  };
}

// shared axes + grid for both panels
function frame(labels: string[]) {
  return [
    <XAxis key="x" xAxisId={0} type="number" dataKey="t" domain={[0, 1440]} ticks={halfHourTicks} interval={0}
      allowDataOverflow tickSize={0} tickMargin={0} tickLine={false} axisLine={false} height={32} tick={makeXTick(labels)} />,
    <YAxis key="yl" yAxisId="l" type="number" domain={[24, 108]} ticks={dbTicks} interval={0} allowDataOverflow
      tickSize={0} tickMargin={0} tickLine={false} axisLine={false} width={40} tick={(p: any) => <YTickLeft {...p} />} />,
    <YAxis key="yr" yAxisId="r" orientation="right" type="number" domain={[24, 108]} ticks={dbTicks} interval={0}
      allowDataOverflow tickSize={0} tickMargin={0} tickLine={false} axisLine={false} width={40} tick={(p: any) => <YTickRight {...p} />} />,
    <CartesianGrid key="g1" yAxisId="l" vertical={false} horizontalValues={dbTicks} stroke="#b9b9b9" strokeDasharray="3 2" fill={PLOT_BG} fillOpacity={1} />,
    <CartesianGrid key="g2" yAxisId="l" horizontal={false} verticalValues={halfHourTicks} stroke="#d6ccb4" strokeDasharray="1.5 2" />,
    <CartesianGrid key="g3" yAxisId="l" horizontalValues={dbMajor} verticalValues={hourMajor} stroke="#adadad" strokeWidth={1.6} />,
  ];
}

function TopChart() {
  return (
    <div style={{ position: "absolute", left: 0, top: 0 }}>
      <ComposedChart width={2400} height={620} margin={{ top: 84, right: 17, bottom: 0, left: 19 }}>
        {frame(topTimeLabels)}
        <Scatter data={pkA} dataKey="v" yAxisId="l" shape={plusShape("#2e8b57")} isAnimationActive={false} />
        <Scatter data={pkC} dataKey="v" yAxisId="l" shape={plusShape("#ff00ff")} isAnimationActive={false} />
        <Scatter data={pkZ} dataKey="v" yAxisId="l" shape={plusShape("#1e90ff")} isAnimationActive={false} />
        <Line data={topA} dataKey="v" yAxisId="l" type="linear" stroke="#9acd32" strokeWidth={1.4} dot={false} isAnimationActive={false} />
        <Line data={topC} dataKey="v" yAxisId="l" type="linear" stroke="#da70d6" strokeWidth={1.4} dot={false} isAnimationActive={false} />
        <Line data={topZ} dataKey="v" yAxisId="l" type="linear" stroke="#4682b4" strokeWidth={1.4} dot={false} isAnimationActive={false} />
        <ReferenceArea x1={0} x2={1440} y1={24} y2={108} yAxisId="l" fill="none" stroke="#000" strokeWidth={1.5} />
      </ComposedChart>
    </div>
  );
}

function BottomChart() {
  return (
    <div style={{ position: "absolute", left: 0, top: 600 }}>
      <ComposedChart width={2400} height={581} data={spikeRows} margin={{ top: 45, right: 17, bottom: 0, left: 19 }}>
        {frame(bottomTimeLabels)}
        <Area data={envRows} dataKey="band" yAxisId="l" type="linear" stroke="#f08080" strokeOpacity={0.3} strokeWidth={0.8}
          fill="#f08080" fillOpacity={0.3} isAnimationActive={false} />
        <Bar dataKey="band" yAxisId="l" barSize={2} fill="#f08080" fillOpacity={0.45} isAnimationActive={false} />
        <Line data={btmA} dataKey="v" yAxisId="l" type="linear" stroke="#ffd700" strokeWidth={1.6} dot={false} isAnimationActive={false} />
        <Line data={btmC} dataKey="v" yAxisId="l" type="linear" stroke="#ff8c00" strokeWidth={2} dot={false} isAnimationActive={false} />
        <Line data={btmZ} dataKey="v" yAxisId="l" type="linear" stroke="#dc143c" strokeWidth={2} dot={false} isAnimationActive={false} />
        <ReferenceArea x1={0} x2={1440} y1={24} y2={108} yAxisId="l" fill="none" stroke="#000" strokeWidth={1.5} />
      </ComposedChart>
    </div>
  );
}

function Overlay() {
  const t = { fontFamily: FONT, fill: "#000" } as const;
  return (
    <svg width={2400} height={1200} style={{ position: "absolute", left: 0, top: 0, pointerEvents: "none" }}>
      <text x={21} y={23} fontSize={12} fontWeight="bold" {...t}>data from [421/mic0]</text>
      <text x={21} y={39} fontSize={12} fontWeight="bold" {...t}>starting point is [20250905_000048]</text>

      <text x={59} y={75} fontSize={11} fontWeight="bold" {...t}>average and peak noise level (1 min sampling)</text>
      <text x={59} y={637} fontSize={11} fontWeight="bold" {...t}>average noise level (5 min with 15s min/max dB envelope)</text>

      <text x={1201} y={624} fontSize={11} textAnchor="middle" {...t}>time</text>
      <text x={1201} y={1185} fontSize={11} textAnchor="middle" {...t}>time</text>

      <text transform="translate(18,336) rotate(-90)" fontSize={11} textAnchor="middle" dy="0.35em" {...t}>dB SPL</text>
      <text transform="translate(2382,336) rotate(-90)" fontSize={11} textAnchor="middle" dy="0.35em" {...t}>dB SPL</text>
      <text transform="translate(18,897) rotate(-90)" fontSize={11} textAnchor="middle" dy="0.35em" {...t}>dB SPL</text>
      <text transform="translate(2382,897) rotate(-90)" fontSize={11} textAnchor="middle" dy="0.35em" {...t}>dB SPL</text>

      {/* top legend */}
      <rect x={2156} y={543} width={182} height={40} rx={3} fill="#fffbe8" fillOpacity={0.85} stroke="#d8c9a4" strokeWidth={1} />
      {[
        { y: 549.5, dot: "#1e90ff", line: "#4682b4", a: "peak dB(Z)", b: "avg dB(Z)" },
        { y: 561.8, dot: "#ff00ff", line: "#da70d6", a: "peak dB(C)", b: "avg dB(C)" },
        { y: 573.8, dot: "#2e8b57", line: "#9acd32", a: "peak dB(A)", b: "avg dB(A)" },
      ].map((r) => (
        <g key={r.a}>
          <circle cx={2169} cy={r.y} r={2.3} fill={r.dot} />
          <text x={2186} y={r.y} dy="0.35em" fontSize={9.5} {...t}>{r.a}</text>
          <line x1={2258} x2={2280} y1={r.y} y2={r.y} stroke={r.line} strokeWidth={3.5} />
          <text x={2286} y={r.y} dy="0.35em" fontSize={9.5} {...t}>{r.b}</text>
        </g>
      ))}

      {/* bottom legend */}
      <rect x={2277} y={1103} width={61} height={41} rx={3} fill="#fffbe8" fillOpacity={0.85} stroke="#d8c9a4" strokeWidth={1} />
      {[
        { y: 1111.2, c: "#dc143c", l: "dB(Z)" },
        { y: 1123.3, c: "#ff8c00", l: "dB(C)" },
        { y: 1135.2, c: "#ffd700", l: "dB(A)" },
      ].map((r) => (
        <g key={r.l}>
          <line x1={2279} x2={2301} y1={r.y} y2={r.y} stroke={r.c} strokeWidth={3.5} />
          <text x={2308} y={r.y} dy="0.35em" fontSize={9.5} {...t}>{r.l}</text>
        </g>
      ))}
    </svg>
  );
}

export default function App() {
  return (
    <div style={{ position: "absolute", left: 0, top: 0, width: 2400, height: 1200, background: "#fff", fontFamily: FONT }}>
      <TopChart />
      <BottomChart />
      <Overlay />
    </div>
  );
}
